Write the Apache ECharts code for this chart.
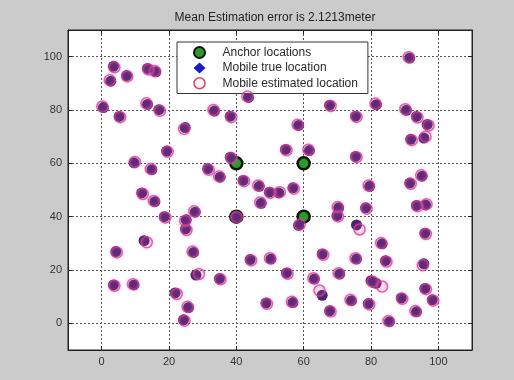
<!DOCTYPE html>
<html>
<head>
<meta charset="utf-8">
<script src="https://cdn.jsdelivr.net/npm/echarts@6/dist/echarts.min.js"></script>
<style>
html,body{margin:0;padding:0;background:#cbcbcb;}
#chart{width:514px;height:380px;}
</style>
</head>
<body>
<div id="chart"></div>
<script>
const titleText = 'Mean Estimation error is 2.1213meter';
const seriesNames = ['Anchor locations', 'Mobile true location', 'Mobile estimated location'];

const anchorX = [40, 60, 40, 60];
const anchorY = [60, 60, 40, 40];

const trueX = [3.5, 2.7, 7.4, 13.6, 16.1, 0.5, 5.2, 13.6, 17.0, 24.8, 19.3, 9.6, 14.9, 33.5, 38.2, 43.6, 38.2, 31.5, 35.2, 42.0,
  46.8, 49.8, 52.6, 11.9, 15.8, 18.6, 27.8, 25.1, 24.9, 12.6, 4.2, 27.3, 28.0, 35.0, 3.5, 9.6, 21.8, 25.8, 24.3, 44.1,
  50.3, 48.8, 47.4, 91.5, 67.7, 81.6, 75.4, 90.5, 93.5, 96.7, 91.8, 95.7, 58.5, 54.6, 61.7, 75.4, 95.2, 91.5, 79.6, 56.8,
  93.5, 96.2, 70.4, 78.4, 69.9, 58.5, 75.7, 96.0, 83.3, 65.5, 75.7, 84.3, 95.7, 54.9, 70.7, 63.2, 80.0, 81.5, 96.0, 65.5,
  98.2, 89.0, 74.2, 79.2, 56.8, 67.7, 93.5, 85.5, 39.8];
const trueY = [96.4, 90.8, 92.9, 95.6, 94.3, 80.9, 77.6, 82.1, 80.1, 73.4, 64.6, 60.2, 57.6, 79.6, 77.7, 84.7, 62.3, 58.0, 54.8, 53.6,
  51.4, 49.2, 48.9, 48.9, 45.6, 40.0, 41.7, 38.8, 35.4, 31.0, 26.9, 26.6, 18.1, 16.8, 14.4, 14.4, 11.4, 5.9, 1.3, 23.9,
  24.1, 7.6, 45.0, 99.5, 81.8, 82.0, 77.7, 79.9, 77.6, 74.6, 69.0, 69.5, 74.2, 65.2, 64.8, 62.6, 55.2, 52.6, 51.4, 50.8,
  44.2, 44.4, 43.3, 43.3, 40.4, 36.7, 36.9, 33.8, 29.8, 26.0, 24.1, 23.5, 22.3, 18.9, 18.5, 16.6, 16.0, 15.0, 13.1, 10.5,
  8.8, 9.5, 8.5, 7.4, 7.8, 4.7, 4.3, 0.6, 40.1];

const estX = [3.8, 2.4, 7.6, 13.9, 15.8, 0.2, 5.5, 13.3, 17.3, 24.5, 19.6, 9.9, 14.6, 33.2, 38.5, 43.3, 38.5, 31.8, 34.9, 42.3,
  46.5, 50.1, 52.9, 12.2, 15.5, 18.9, 27.5, 24.8, 25.2, 13.4, 4.5, 27.0, 28.9, 35.3, 3.8, 9.3, 22.3, 25.5, 24.6, 44.4,
  50.0, 49.1, 47.1, 91.2, 68.0, 81.3, 75.7, 90.2, 93.8, 97.1, 92.1, 96.2, 58.2, 54.9, 61.4, 75.7, 94.9, 91.8, 79.3, 57.1,
  93.8, 96.5, 70.1, 78.7, 70.2, 58.8, 76.6, 96.3, 83.0, 65.8, 75.4, 84.6, 95.4, 55.2, 70.4, 62.9, 80.5, 83.3, 96.3, 64.7,
  98.5, 89.3, 73.9, 79.5, 56.5, 68.0, 93.2, 85.2, 40.1];
const estY = [96.0, 91.2, 92.6, 95.2, 94.6, 81.3, 77.3, 82.5, 79.7, 72.9, 64.3, 60.5, 57.9, 80.0, 77.3, 85.1, 62.0, 57.6, 55.1, 53.3,
  51.7, 48.9, 49.2, 48.5, 45.9, 39.7, 42.0, 38.4, 35.0, 30.4, 26.6, 26.9, 18.5, 16.5, 14.1, 14.7, 11.0, 6.2, 1.0, 23.6,
  24.4, 7.3, 45.3, 99.8, 81.5, 82.4, 77.4, 80.3, 77.2, 74.2, 68.7, 70.0, 74.5, 64.9, 65.1, 62.3, 55.5, 52.3, 51.7, 50.5,
  43.9, 44.7, 43.6, 43.0, 40.1, 37.0, 35.2, 33.5, 30.1, 25.7, 24.4, 23.1, 21.8, 18.6, 18.8, 16.9, 15.6, 13.8, 12.8, 12.3,
  8.5, 9.2, 8.8, 7.1, 8.1, 4.4, 4.6, 0.9, 39.8];

const axisMin = -10, axisMax = 110;

function pairs(xs, ys) { return xs.map((x, i) => [x, ys[i]]); }

const font = '"Liberation Sans", Arial, sans-serif';
const chart = echarts.init(document.getElementById('chart'), null, {renderer: 'canvas'});

const baseAxis = {
  min: axisMin, max: axisMax, splitNumber: 6,
  axisLine: {show: true, onZero: false, lineStyle: {color: '#222', width: 1}},
  axisTick: {show: true, inside: true, length: 4, lineStyle: {color: '#222'}},
  axisLabel: {show: true, color: '#333', fontSize: 11, fontFamily: font, showMinLabel: false, showMaxLabel: false},
  splitLine: {show: true, lineStyle: {color: '#555', type: [2, 2], width: 1}}
};
function sideAxis(pos) {
  return Object.assign({}, baseAxis, {
    position: pos,
    axisLabel: {show: false},
    splitLine: {show: false}
  });
}

chart.setOption({
  backgroundColor: '#cbcbcb',
  animation: false,
  title: {
    text: titleText, left: 270, top: 7, textAlign: 'center',
    textStyle: {fontSize: 12, fontWeight: 'normal', color: '#222', fontFamily: font}
  },
  grid: {left: 68, right: 42, top: 30, bottom: 30, show: true, backgroundColor: '#ffffff', borderColor: '#222', borderWidth: 1},
  xAxis: [
    Object.assign({}, baseAxis, {type: 'value', position: 'bottom', axisLabel: Object.assign({}, baseAxis.axisLabel, {margin: 6})}),
    Object.assign({type: 'value'}, sideAxis('top'))
  ],
  yAxis: [
    Object.assign({}, baseAxis, {type: 'value', position: 'left', axisLabel: Object.assign({}, baseAxis.axisLabel, {margin: 6})}),
    Object.assign({type: 'value'}, sideAxis('right'))
  ],
  legend: {
    orient: 'vertical', left: 177, top: 42,
    backgroundColor: '#ffffff', borderColor: '#333', borderWidth: 1, borderRadius: 0,
    padding: [4, 10, 4, 16], itemGap: 3, itemWidth: 12, itemHeight: 11,
    textStyle: {fontSize: 12, color: '#2a2a2a', fontFamily: font, padding: [0, 0, 0, 12]},
    data: [
      {name: seriesNames[0], icon: 'circle'},
      {name: seriesNames[1], icon: 'diamond', itemStyle: {color: '#1a1acc', borderWidth: 0, shadowBlur: 0}},
      {name: seriesNames[2], icon: 'circle', itemStyle: {color: '#fff0f4', borderColor: '#d04a6a', borderWidth: 1.5, shadowBlur: 0}}
    ]
  },
  series: [
    {
      name: seriesNames[0], type: 'scatter', xAxisIndex: 0, yAxisIndex: 0, z: 2,
      symbol: 'circle', symbolSize: 12,
      itemStyle: {color: '#2a9a2a', borderColor: '#0a140a', borderWidth: 2.5, opacity: 1},
      data: pairs(anchorX, anchorY)
    },
    {
      name: seriesNames[1], type: 'scatter', xAxisIndex: 0, yAxisIndex: 0, z: 3,
      symbol: 'circle', symbolSize: 11,
      itemStyle: {color: '#47226f', opacity: 1},
      data: pairs(trueX, trueY)
    },
    {
      name: seriesNames[2], type: 'scatter', xAxisIndex: 0, yAxisIndex: 0, z: 4,
      symbol: 'circle', symbolSize: 11,
      itemStyle: {color: 'rgba(200,60,120,0.12)', borderColor: 'rgba(215,60,140,0.75)', borderWidth: 1.5, opacity: 1,
        shadowBlur: 3, shadowColor: 'rgba(230,110,210,0.6)'},
      data: pairs(estX, estY)
    }
  ]
});
</script>
</body>
</html>
